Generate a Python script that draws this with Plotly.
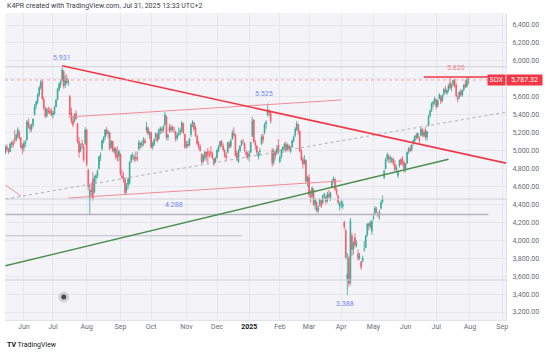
import pandas as pd
import plotly.graph_objects as go

# ---------------- calendar (trading days) ----------------
HOLIDAYS = ["2024-05-27", "2024-06-19", "2024-07-04", "2024-09-02", "2024-11-28", "2024-12-25",
            "2025-01-01", "2025-01-09", "2025-01-20", "2025-02-17", "2025-04-18", "2025-05-26",
            "2025-06-19", "2025-07-04", "2025-09-01"]
cal = pd.bdate_range("2024-05-15", "2025-09-30")
cal = cal[~cal.isin(pd.to_datetime(HOLIDAYS))]
IDX = {d.strftime("%Y-%m-%d"): i for i, d in enumerate(cal)}

# ---------------- daily OHLC (SOX), May 15 2024 .. Jul 31 2025 ----------------
opens = [
    4980, 5040, 5010, 4990, 5070, 5090, 5130, 5120, 5170, 5200, 5140, 5060,
    5030, 5080, 5120, 5320, 5270, 5240, 5290, 5400, 5500, 5540, 5620, 5700, 5770, 5570, 5470, 5390, 5450, 5440, 5440,
    5400, 5410, 5490, 5570, 5680, 5740, 5780, 5880, 5730, 5800, 5760, 5600, 5420, 5330, 5330, 5410, 5300, 5100, 5000, 5080, 5050, 5080,
    5230, 4780, 4450, 4560, 4680, 4540, 4700, 4720, 4800, 4930, 5020, 5100, 5150, 5230, 5190, 5200, 5040, 5100, 4990, 5020, 4960, 4940,
    4960, 4720, 4700, 4680, 4560, 4620, 4640, 4880, 4940, 4930, 4920, 4920, 5020, 5080, 5060, 5090, 5110, 5230, 5250, 5180,
    5200, 5040, 5070, 5150, 5180, 5130, 5230, 5240, 5230, 5290, 5380, 5150, 5260, 5230, 5260, 5230, 5210, 5140, 5180, 5200, 5220, 5300, 5180,
    5050, 5070, 5060, 5180, 5300, 5310, 5250, 5160, 5080, 5040, 4960, 4880, 4920, 4980, 4990, 4960, 4980, 4960, 4910, 4870,
    4920, 5000, 5050, 5100, 5050, 5000, 4940, 4980, 5080, 5050, 5130, 5190, 5170, 4970, 4880, 5000, 5060, 5100, 5080, 4980, 4970,
    4940, 4980, 5160, 5340, 5090, 5050, 4930, 4990, 5080, 5160, 5200, 5300, 5400, 5440, 5420, 5000, 4870, 4980, 4980, 5060,
    4880, 4930, 5010, 5050, 5070, 5020, 5050, 4990, 5040, 5110, 5170, 5240, 5290, 5210, 5000, 4900, 4860, 4890, 4650,
    4700, 4500, 4490, 4560, 4400, 4420, 4330, 4400, 4440, 4420, 4500, 4490, 4440, 4510, 4470, 4590, 4660, 4680, 4560, 4500, 4380,
    4410, 4380, 4200, 4110, 3560, 3800, 3530, 4050, 3900, 4030, 3950, 3850, 3810, 3760, 3770, 3900, 3920, 4060, 4180, 4150, 4100,
    4250, 4300, 4340, 4290, 4300, 4360, 4430, 4700, 4800, 4910, 4930, 4910, 4880, 4900, 4850, 4790, 4720, 4830, 4900, 4900, 4870,
    4800, 4860, 4990, 5020, 5010, 5080, 5110, 5170, 5140, 5130, 5170, 5230, 5170, 5230, 5150, 5280, 5390, 5450, 5520, 5540,
    5560, 5500, 5580, 5600, 5560, 5630, 5680, 5640, 5680, 5760, 5700, 5740, 5790, 5730, 5600, 5600, 5660, 5620, 5680, 5740, 5720, 5800,
]
highs = [
    5060, 5070, 5030, 5090, 5110, 5120, 5230, 5190, 5260, 5230, 5150, 5080,
    5110, 5120, 5340, 5360, 5300, 5300, 5360, 5520, 5560, 5640, 5720, 5790, 5790, 5600, 5490, 5480, 5490, 5480, 5470,
    5440, 5500, 5580, 5700, 5760, 5790, 5931, 5900, 5840, 5850, 5800, 5620, 5480, 5380, 5420, 5450, 5310, 5150, 5080, 5120, 5070, 5260,
    5240, 4800, 4620, 4640, 4760, 4720, 4740, 4790, 4940, 4980, 5120, 5160, 5240, 5265, 5230, 5210, 5120, 5110, 5040, 5040, 5050, 5010,
    4970, 4780, 4760, 4700, 4640, 4700, 4880, 4960, 4980, 4950, 4990, 4990, 5120, 5100, 5110, 5150, 5140, 5320, 5270, 5220,
    5210, 5100, 5140, 5200, 5200, 5240, 5270, 5260, 5290, 5430, 5390, 5190, 5300, 5290, 5280, 5270, 5220, 5200, 5260, 5250, 5330, 5310, 5190,
    5110, 5110, 5140, 5300, 5340, 5320, 5280, 5180, 5110, 5070, 4970, 4960, 5000, 4990, 5030, 5000, 5050, 4990, 4920, 4930,
    5020, 5060, 5110, 5120, 5080, 5020, 4980, 5100, 5100, 5130, 5230, 5260, 5190, 5000, 5020, 5060, 5120, 5130, 5090, 5010, 4990,
    5000, 5100, 5380, 5350, 5120, 5060, 4990, 5030, 5180, 5190, 5310, 5340, 5525, 5460, 5440, 5030, 5020, 5000, 5060, 5130,
    4950, 5020, 5050, 5090, 5100, 5080, 5070, 5050, 5120, 5170, 5260, 5330, 5300, 5230, 5020, 4930, 4950, 4900, 4720,
    4740, 4560, 4600, 4580, 4470, 4440, 4390, 4470, 4460, 4510, 4530, 4500, 4540, 4560, 4540, 4680, 4710, 4690, 4590, 4510, 4430,
    4450, 4440, 4220, 4130, 3860, 3830, 4250, 4080, 3990, 4080, 4000, 3900, 3860, 3770, 3830, 3990, 4060, 4190, 4200, 4220, 4230,
    4300, 4380, 4370, 4320, 4340, 4450, 4500, 4790, 4920, 4980, 4960, 4950, 4930, 4920, 4890, 4840, 4780, 4900, 4920, 4940, 4880,
    4860, 4990, 5040, 5060, 5070, 5130, 5170, 5200, 5200, 5160, 5260, 5250, 5230, 5260, 5220, 5400, 5460, 5540, 5560, 5600,
    5580, 5570, 5640, 5620, 5630, 5700, 5720, 5690, 5740, 5810, 5750, 5790, 5800, 5760, 5620, 5660, 5690, 5680, 5740, 5790, 5820, 5815,
]
lows = [
    4960, 4990, 4960, 4980, 5030, 5030, 5080, 5100, 5140, 5120, 5020, 4960,
    4990, 5040, 5110, 5250, 5200, 5210, 5260, 5390, 5460, 5520, 5600, 5680, 5560, 5450, 5360, 5370, 5410, 5400, 5380,
    5360, 5400, 5480, 5560, 5660, 5700, 5770, 5690, 5700, 5740, 5720, 5390, 5300, 5260, 5310, 5340, 5080, 4920, 4980, 5020, 4870, 5060,
    4820, 4560, 4288, 4480, 4440, 4520, 4640, 4690, 4790, 4880, 5000, 5080, 5120, 5170, 5140, 5000, 5020, 4980, 4960, 4900, 4880, 4880,
    4720, 4680, 4640, 4510, 4520, 4570, 4620, 4860, 4900, 4870, 4880, 4880, 5000, 5020, 5030, 5050, 5070, 5200, 5170, 5130,
    5020, 5010, 5050, 5110, 5090, 5120, 5180, 5190, 5200, 5280, 5120, 5110, 5200, 5200, 5210, 5190, 5100, 5110, 5160, 5170, 5200, 5180, 5020,
    5020, 5030, 5050, 5150, 5260, 5220, 5150, 5060, 5020, 4990, 4850, 4860, 4890, 4880, 4860, 4920, 4930, 4900, 4830, 4860,
    4910, 4980, 5030, 5040, 4990, 4920, 4890, 4970, 5020, 5030, 5120, 5150, 4930, 4880, 4860, 4980, 5050, 5070, 4980, 4920, 4900,
    4880, 4970, 5150, 5080, 5010, 4950, 4900, 4940, 5060, 5080, 5180, 5240, 5380, 5380, 5300, 4820, 4840, 4900, 4950, 4960,
    4860, 4910, 4970, 5010, 4980, 5000, 4990, 4970, 5030, 5090, 5150, 5220, 5180, 4980, 4880, 4800, 4840, 4640, 4600,
    4480, 4420, 4460, 4380, 4340, 4310, 4300, 4370, 4360, 4400, 4460, 4400, 4420, 4470, 4440, 4580, 4640, 4550, 4500, 4400, 4330,
    4360, 4350, 4120, 3790, 3388, 3480, 3500, 3820, 3840, 3920, 3920, 3770, 3780, 3670, 3750, 3870, 3910, 4040, 4110, 4130, 4060,
    4220, 4280, 4300, 4250, 4230, 4340, 4410, 4680, 4790, 4880, 4860, 4860, 4860, 4830, 4770, 4760, 4690, 4810, 4840, 4830, 4750,
    4760, 4850, 4960, 4980, 4990, 5060, 5090, 5120, 5130, 5080, 5160, 5150, 5150, 5120, 5110, 5270, 5370, 5430, 5480, 5510,
    5460, 5480, 5570, 5520, 5540, 5610, 5640, 5620, 5650, 5680, 5660, 5720, 5700, 5600, 5540, 5570, 5600, 5600, 5660, 5700, 5700, 5740,
]
closes = [
    5040, 5010, 4990, 5070, 5090, 5060, 5120, 5170, 5230, 5140, 5040, 5020,
    5080, 5100, 5320, 5280, 5240, 5290, 5350, 5490, 5540, 5620, 5700, 5760, 5580, 5480, 5380, 5460, 5440, 5420, 5400,
    5420, 5480, 5560, 5680, 5740, 5770, 5900, 5720, 5790, 5760, 5770, 5400, 5330, 5290, 5400, 5360, 5100, 4980, 5050, 5060, 4900, 5230,
    4850, 4600, 4560, 4540, 4460, 4700, 4720, 4770, 4930, 4950, 5110, 5140, 5230, 5190, 5200, 5020, 5100, 5000, 5020, 4930, 4920, 4990,
    4740, 4700, 4680, 4530, 4610, 4680, 4870, 4940, 4950, 4900, 4920, 4900, 5090, 5060, 5080, 5120, 5090, 5260, 5190, 5200,
    5040, 5080, 5120, 5190, 5110, 5230, 5250, 5220, 5270, 5400, 5150, 5170, 5220, 5260, 5240, 5230, 5130, 5170, 5190, 5220, 5310, 5200, 5040,
    5070, 5050, 5130, 5290, 5320, 5240, 5170, 5080, 5040, 5000, 4870, 4940, 4980, 4930, 4960, 4950, 4970, 4920, 4850, 4910,
    5000, 5040, 5100, 5060, 5010, 4940, 4920, 5090, 5040, 5110, 5200, 5170, 4950, 4900, 4990, 5050, 5110, 5100, 5010, 4960, 4920,
    4960, 5090, 5330, 5100, 5060, 4980, 4970, 4990, 5150, 5120, 5290, 5320, 5450, 5420, 5330, 4860, 4990, 4940, 5020, 4980,
    4920, 5010, 5040, 5070, 5000, 5060, 5020, 5030, 5110, 5150, 5240, 5300, 5220, 5000, 4900, 4850, 4900, 4660, 4700,
    4510, 4480, 4580, 4400, 4450, 4330, 4360, 4450, 4380, 4500, 4510, 4430, 4520, 4490, 4530, 4660, 4690, 4570, 4520, 4420, 4410,
    4420, 4400, 4150, 3810, 3620, 3520, 4220, 3900, 3970, 3950, 3960, 3800, 3820, 3700, 3800, 3900, 4050, 4180, 4160, 4200, 4210,
    4260, 4360, 4330, 4280, 4310, 4420, 4460, 4770, 4900, 4950, 4900, 4920, 4910, 4860, 4790, 4810, 4760, 4890, 4850, 4870, 4800,
    4850, 4980, 5020, 5000, 5060, 5110, 5160, 5150, 5190, 5110, 5240, 5170, 5200, 5150, 5210, 5380, 5440, 5520, 5540, 5580,
    5490, 5560, 5620, 5550, 5610, 5680, 5660, 5670, 5720, 5700, 5730, 5780, 5720, 5610, 5580, 5650, 5620, 5670, 5730, 5710, 5790, 5787.32,
]

# ---------------- drawings (date, price anchors) ----------------
red_trend = [("2024-07-10", 5945), ("2025-09-05", 4859)]
upper_channel = [("2024-07-16", 5374), ("2025-04-01", 5564)]
lower_channel = [("2024-07-16", 4471), ("2025-04-01", 4661)]
mid_dashed = [("2024-05-15", 4460), ("2025-09-05", 5430)]
green_support = [("2024-05-15", 3716), ("2025-07-14", 4903)]
left_stub = [("2024-05-15", 4616), ("2024-05-30", 4494)]
seg_4288 = [("2024-05-15", 4288), ("2025-08-19", 4288)]
seg_4050 = [("2024-05-15", 4050), ("2024-12-24", 4050)]
seg_5820 = [("2025-06-18", 5820), ("2025-08-19", 5820)]
full_levels = [5935, 4460, 3557]
last_price = 5787.32
cursor_dot = ("2024-07-11", 3367)

# price labels: (text, date, price, anchor, xshift)
blue_labels = [("5.931", "2024-07-10", 5931, "bottom", 0),
               ("5.525", "2025-01-22", 5525, "bottom", -4),
               ("4.288", "2024-10-22", 4288, "bottom", 0),
               ("3.388", "2025-04-07", 3388, "top", -2)]
red_label = ("5.820", "2025-07-21", 5820)

month_names = ["Jun", "Jul", "Aug", "Sep", "Oct", "Nov", "Dec", "2025", "Feb", "Mar",
               "Apr", "May", "Jun", "Jul", "Aug", "Sep"]

# ---------------- build ----------------
UP = "#089981"
DN = "#f23645"
BLUE = "#6f84f2"
n = len(closes)
xs = list(range(n))

fig = go.Figure()
fig.add_trace(go.Candlestick(
    x=xs, open=opens, high=highs, low=lows, close=closes,
    increasing=dict(line=dict(color=UP, width=0.8), fillcolor=UP),
    decreasing=dict(line=dict(color=DN, width=0.8), fillcolor=DN),
    whiskerwidth=0, opacity=0.82, showlegend=False, hoverinfo="skip"))


def line(pts, color, width, dash="solid", opacity=1.0):
    (d0, p0), (d1, p1) = pts
    fig.add_shape(type="line", xref="x", yref="y", x0=IDX[d0], y0=p0, x1=IDX[d1], y1=p1,
                  line=dict(color=color, width=width, dash=dash), opacity=opacity)


for lv in full_levels:
    fig.add_shape(type="line", xref="paper", yref="y", x0=0, x1=1, y0=lv, y1=lv,
                  line=dict(color="#cfd1d8", width=1))
line(seg_4050, "#bcbec6", 1)
line(seg_4288, "#b2b5be", 1.6)
line(mid_dashed, "#aeb1b9", 1, dash="3px,3px")
line(upper_channel, "#f28b95", 1)
line(lower_channel, "#f28b95", 1)
line(left_stub, "#f28b95", 1)
line(green_support, "#4c8f4f", 1.4)
line(red_trend, DN, 1.6)
line(seg_5820, DN, 1.4)
fig.add_shape(type="line", xref="paper", yref="y", x0=0, x1=1, y0=last_price, y1=last_price,
              line=dict(color="#f5a3aa", width=1, dash="dot"))

# cursor dot
fig.add_trace(go.Scatter(x=[IDX[cursor_dot[0]]] * 2, y=[cursor_dot[1]] * 2, mode="markers",
                         marker=dict(size=[11, 5], color=["rgba(40,40,40,0.22)", "#111111"],
                                     line=dict(width=0)),
                         showlegend=False, hoverinfo="skip"))

for txt, d, p, anc, xsft in blue_labels:
    fig.add_annotation(x=IDX[d], y=p, text=txt, showarrow=False, yanchor=anc,
                       yshift=3 if anc == "bottom" else -3, xshift=xsft,
                       font=dict(size=7, color=BLUE))
fig.add_annotation(x=IDX[red_label[1]], y=red_label[2], text=red_label[0], showarrow=False,
                   yanchor="bottom", yshift=3, font=dict(size=7, color="#f07b86"))

# SOX tag and price badge
fig.add_annotation(xref="paper", x=1, y=last_price, text="SOX", showarrow=False, xanchor="right",
                   yanchor="middle", bgcolor=DN, font=dict(size=7, color="white"), borderpad=1, width=15)
fig.add_annotation(xref="paper", x=1, y=last_price, text="5,787.32", showarrow=False, xanchor="left",
                   yanchor="middle", bgcolor=DN, font=dict(size=7, color="white"), borderpad=1, width=33)

# header / footer
fig.add_annotation(xref="paper", yref="paper", x=0, y=1, xanchor="left", yanchor="bottom", yshift=1,
                   text="K4PR created with TradingView.com, Jul 31, 2025 13:33 UTC+2", showarrow=False,
                   font=dict(size=7, color="#3a3d45"))
fig.add_annotation(xref="paper", yref="paper", x=0, y=0, xanchor="left", yanchor="middle", yshift=-25,
                   text="<b>TV</b> TradingView", showarrow=False, font=dict(size=7, color="#131722"))

# x ticks at month starts
month_starts = pd.date_range("2024-06-01", "2025-09-01", freq="MS")
tickvals = [int(cal.searchsorted(m)) for m in month_starts]
ticktext = ['<span style="color:#131722"><b>%s</b></span>' % t if t == "2025" else t for t in month_names]

GRID = "#e7e8ee"
fig.update_layout(
    width=550, height=354, margin=dict(l=5, r=44, t=13, b=34),
    paper_bgcolor="white", plot_bgcolor="#f4f4f8",
    font=dict(family="Roboto, Liberation Sans, sans-serif", size=7, color="#6a6d78"),
    showlegend=False,
    xaxis=dict(range=[-0.3, 326.5], tickvals=tickvals, ticktext=ticktext, showgrid=True,
               gridcolor=GRID, zeroline=False, showline=True, linecolor="#e0e3eb", ticks="",
               rangeslider=dict(visible=False), tickfont=dict(size=7, color="#6a6d78"),
               fixedrange=True),
    yaxis=dict(side="right", range=[3111, 6534], tickvals=list(range(3200, 6401, 200)),
               tickformat=",.2f", showgrid=True, gridcolor=GRID, zeroline=False, showline=True,
               linecolor="#e0e3eb", ticks="", ticklabelstandoff=4,
               tickfont=dict(size=7, color="#6a6d78")),
)

fig.write_html("out.html")
